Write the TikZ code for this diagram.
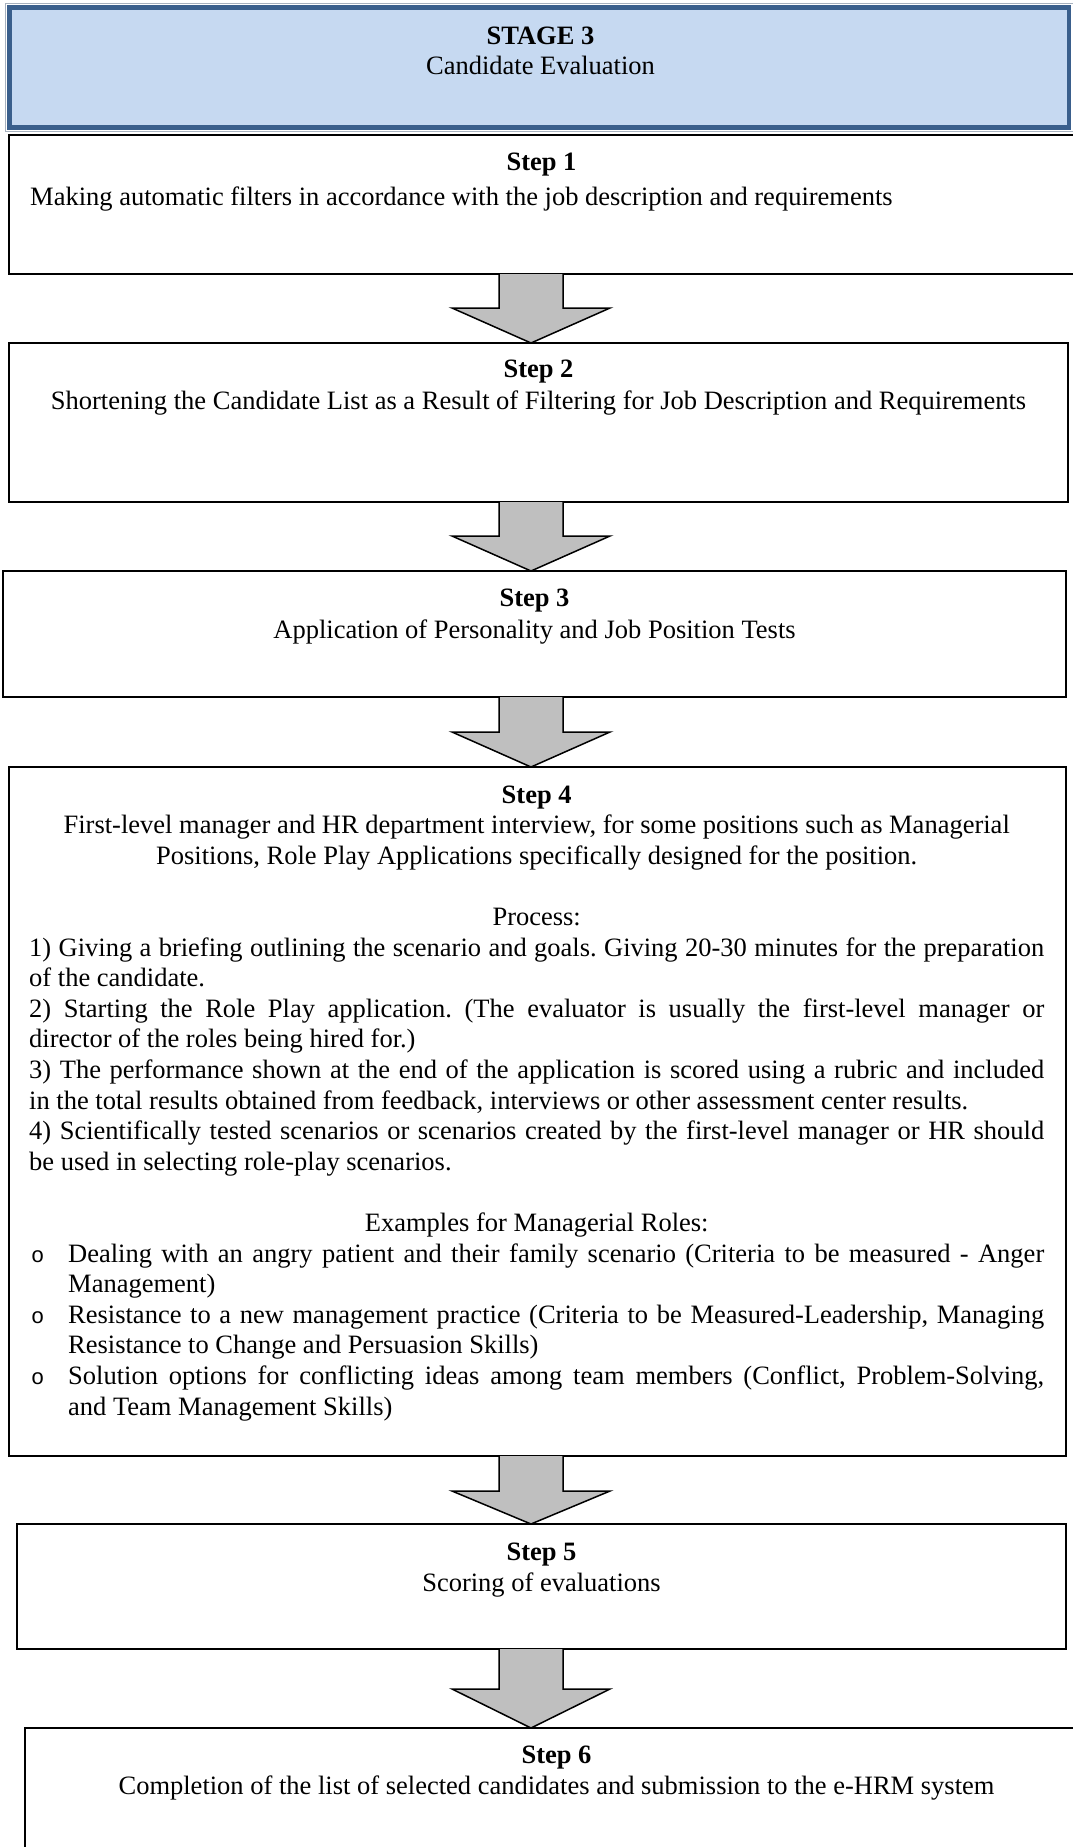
\documentclass[tikz,border=0pt]{standalone}
\usepackage{fontspec}
\setmainfont{Liberation Serif}
\newfontfamily\bulletfont{Liberation Mono}
\usetikzlibrary{calc}

\definecolor{headfill}{HTML}{C6D9F1}
\definecolor{headline}{HTML}{3A5F8C}
\definecolor{headedge}{HTML}{A7B1BE}
\definecolor{arrowfill}{HTML}{BFBFBF}

\newcommand\bodysize{\fontsize{26.5pt}{30.6pt}\selectfont}
% hanging bullet item: circle at the left, text indented
\newcommand\bulletrow{\par\hangindent=39pt\hangafter=1\noindent
  \makebox[39pt][l]{\hspace{2pt}{\bulletfont\fontsize{22pt}{30.6pt}\selectfont o}}}

\tikzset{
  stepbox/.style={draw=black, fill=white, line width=2.4pt, outer sep=0pt,
                  inner sep=0pt, anchor=north west},
  headbox/.style={draw=headline, fill=headfill, line width=4.5pt, outer sep=0pt,
                  inner sep=0pt, anchor=north west},
  title/.style={font=\bodysize\bfseries, anchor=base, inner sep=0pt},
  desc/.style={font=\bodysize, anchor=base, inner sep=0pt},
  flow/.style={draw=black, fill=arrowfill, line width=1.5pt, line join=miter},
}

% block arrow from the bottom of one box to the top of the next
\newcommand\flowarrow[3]{%
  \coordinate (fa-from) at (#1.south -| ax);
  \coordinate (fa-to) at (#2.north -| ax);
  \draw[flow] ($(fa-from)+(-32,0)$) -- ($(fa-to)+(-32,-#3)$) -- ($(fa-to)+(-79,-#3)$)
    -- (fa-to) -- ($(fa-to)+(79,-#3)$) -- ($(fa-to)+(32,-#3)$) -- ($(fa-from)+(32,0)$);
}

\begin{document}
\frenchspacing
\begin{tikzpicture}[x=1pt,y=-1pt]
\path[use as bounding box, fill=white] (0,0) rectangle (1072,1847);
\coordinate (ax) at (531,0);

% stage header
\node[headbox, minimum width=1059.5pt, minimum height=120pt] (head) at (9.5,7.5) {};
\draw[headedge, line width=1pt] ($(head.north west)+(-4,-4)$) rectangle ($(head.south east)+(4,4)$);
\node[title] (headt) at (540.5,44) {STAGE 3};
\node[desc] (headd) at (540.5,74) {Candidate Evaluation};

% step boxes
\node[stepbox, minimum width=1065pt, minimum height=139pt] (s1) at (9,135) {};
\node[stepbox, minimum width=1059pt, minimum height=159pt] (s2) at (9,343) {};
\node[stepbox, minimum width=1063pt, minimum height=126pt] (s3) at (3,571) {};
\node[stepbox, minimum width=1057pt, minimum height=689pt] (s4) at (9,767) {};
\node[stepbox, minimum width=1049pt, minimum height=125pt] (s5) at (17,1524) {};
\node[stepbox, minimum width=1063pt, minimum height=150pt] (s6) at (25,1728) {};

% connecting arrows
\flowarrow{s1}{s2}{35}
\flowarrow{s2}{s3}{35}
\flowarrow{s3}{s4}{35}
\flowarrow{s4}{s5}{33}
\flowarrow{s5}{s6}{39}

% step texts
\node[title] (s1t) at (541.5,170) {Step 1};
\node[desc, anchor=base west] (s1d) at (30,205)
  {Making automatic filters in accordance with the job description and requirements};

\node[title] (s2t) at (538.5,377) {Step 2};
\node[desc] (s2d) at (538.5,409)
  {Shortening the Candidate List as a Result of Filtering for Job Description and Requirements};

\node[title] (s3t) at (534.5,606) {Step 3};
\node[desc] (s3d) at (534.5,638) {Application of Personality and Job Position Tests};

\node[font=\bodysize, anchor=base west, inner sep=0pt] (s4b) at (29,803) {%
\begin{minipage}[t]{1015pt}
\bodysize\frenchspacing\tolerance=10000 \hyphenpenalty=10000 \exhyphenpenalty=10000
{\centering\textbf{Step 4}\par
First-level manager and HR department interview, for some positions such as Managerial\par
Positions, Role Play Applications specifically designed for the position.\par
\mbox{}\par
Process:\par}
1) Giving a briefing outlining the scenario and goals. Giving 20-30 minutes for the preparation\linebreak
of the candidate.\par
2) Starting the Role Play application. (The evaluator is usually the first-level manager or\linebreak
director of the roles being hired for.)\par
3) The performance shown at the end of the application is scored using a rubric and included\linebreak
in the total results obtained from feedback, interviews or other assessment center results.\par
4) Scientifically tested scenarios or scenarios created by the first-level manager or HR should\linebreak
be used in selecting role-play scenarios.\par
\mbox{}\par
{\centering Examples for Managerial Roles:\par}
\bulletrow Dealing with an angry patient and their family scenario (Criteria to be measured - Anger\linebreak
Management)\par
\bulletrow Resistance to a new management practice (Criteria to be Measured-Leadership, Managing\linebreak
Resistance to Change and Persuasion Skills)\par
\bulletrow Solution options for conflicting ideas among team members (Conflict, Problem-Solving,\linebreak
and Team Management Skills)\par
\end{minipage}};

\node[title] (s5t) at (541.5,1560.5) {Step 5};
\node[desc] (s5d) at (541.5,1591) {Scoring of evaluations};

\node[title] (s6t) at (556.5,1763) {Step 6};
\node[desc] (s6d) at (556.5,1794)
  {Completion of the list of selected candidates and submission to the e-HRM system};
\end{tikzpicture}
\end{document}
